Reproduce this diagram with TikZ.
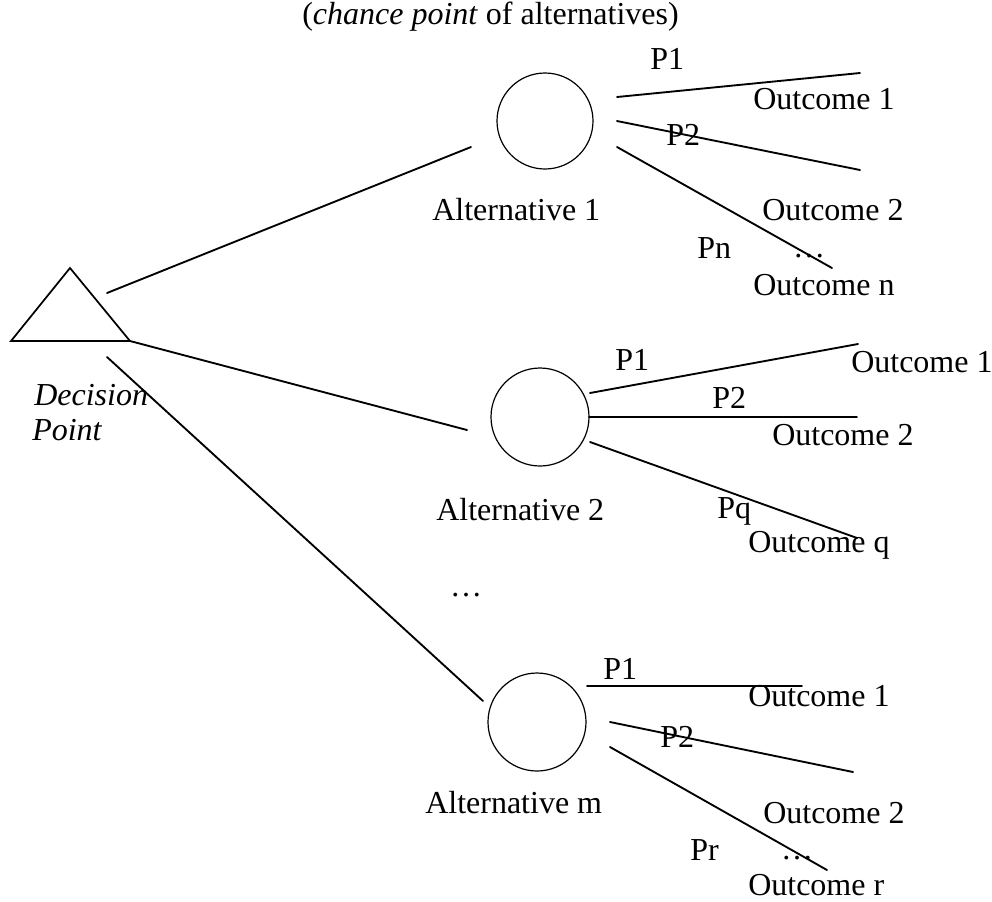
\documentclass[tikz,border=0pt]{standalone}
\usepackage{fontspec}
\setmainfont{Liberation Serif}
\begin{document}
\begin{tikzpicture}[x=0.75pt,y=-0.75pt,
  lbl/.style={inner sep=0pt, anchor=base west, font=\fontsize{24}{28}\selectfont},
  branch/.style={line width=1.4pt, line cap=round},
  chance/.style={circle, draw, line width=0.9pt, minimum size=#1, inner sep=0pt},
  decision/.style={line width=1.3pt, line join=miter}]
\useasboundingbox (0,0) rectangle (992,901);
\fill[white] (0,0) rectangle (992,901);

% decision point (triangle)
\coordinate (apex) at (70,268);
\coordinate (bl) at (11,341);
\coordinate (br) at (130,341);
\draw[decision] (apex) -- (br) -- (bl) -- cycle;
\node[lbl, font=\fontsize{24}{28}\selectfont\itshape] (dec) at (34,405) {Decision};
\node[lbl, font=\fontsize{24}{28}\selectfont\itshape] (pnt) at (32,440) {Point};

% chance points
\node[chance=96pt*0.75] (c1) at (545,121) {};
\node[chance=98pt*0.75] (c2) at (540,417) {};
\node[chance=98pt*0.75] (cm) at (537,722) {};

\node[lbl, anchor=base east] (cap) at (679,24) {(\textit{chance point} of alternatives)};
\node[lbl] (alt1) at (432,220) {Alternative 1};
\node[lbl] (alt2) at (436,520) {Alternative 2};
\node[lbl] (altm) at (425,813) {Alternative m};
\node[lbl, anchor=base] (mid) at (466,596) {…};

% decision branches
\coordinate (t1) at (107,293);  \coordinate (e1) at (471,147);
\coordinate (t2) at (130,341);  \coordinate (e2) at (467,430);
\coordinate (t3) at (107,357);  \coordinate (e3) at (483,701);
\draw[branch] (t1) -- (e1);
\draw[branch] (t2) -- (e2);
\draw[branch] (t3) -- (e3);

% outcomes of alternative 1
\coordinate (a1s1) at (617,97);  \coordinate (a1o1) at (860,73);
\coordinate (a1s2) at (617,121); \coordinate (a1o2) at (860,170);
\coordinate (a1s3) at (617,147); \coordinate (a1o3) at (832,268);
\draw[branch] (a1s1) -- (a1o1);
\draw[branch] (a1s2) -- (a1o2);
\draw[branch] (a1s3) -- (a1o3);
\node[lbl] (a1p1) at (650,69) {P1};
\node[lbl] (a1out1) at (753,109) {Outcome 1};
\node[lbl] (a1p2) at (666,145) {P2};
\node[lbl] (a1out2) at (762,220) {Outcome 2};
\node[lbl] (a1pn) at (697,258) {Pn};
\node[lbl, anchor=base] (a1dots) at (809,257) {…};
\node[lbl] (a1outn) at (753,295) {Outcome n};

% outcomes of alternative 2
\coordinate (a2s1) at (590,393); \coordinate (a2o1) at (858,344);
\coordinate (a2s2) at (589,417); \coordinate (a2o2) at (857,417);
\coordinate (a2s3) at (590,442); \coordinate (a2o3) at (857,538);
\draw[branch] (a2s1) -- (a2o1);
\draw[branch] (a2s2) -- (a2o2);
\draw[branch] (a2s3) -- (a2o3);
\node[lbl] (a2p1) at (615,370) {P1};
\node[lbl] (a2out1) at (851,372) {Outcome 1};
\node[lbl] (a2p2) at (712,408) {P2};
\node[lbl] (a2out2) at (772,445) {Outcome 2};
\node[lbl] (a2pq) at (717,518) {Pq};
\node[lbl] (a2outq) at (748,552) {Outcome q};

% outcomes of alternative m
\coordinate (ams1) at (587,686); \coordinate (amo1) at (802,686);
\coordinate (ams2) at (610,722); \coordinate (amo2) at (853,772);
\coordinate (ams3) at (610,747); \coordinate (amo3) at (827,870);
\draw[branch] (ams1) -- (amo1);
\draw[branch] (ams2) -- (amo2);
\draw[branch] (ams3) -- (amo3);
\node[lbl] (amp1) at (603,679) {P1};
\node[lbl] (amout1) at (748,706) {Outcome 1};
\node[lbl] (amp2) at (660,747) {P2};
\node[lbl] (amout2) at (763,823) {Outcome 2};
\node[lbl] (ampr) at (690,860) {Pr};
\node[lbl, anchor=base] (amdots) at (797,859) {…};
\node[lbl] (amoutr) at (748,895) {Outcome r};
\end{tikzpicture}
\end{document}
